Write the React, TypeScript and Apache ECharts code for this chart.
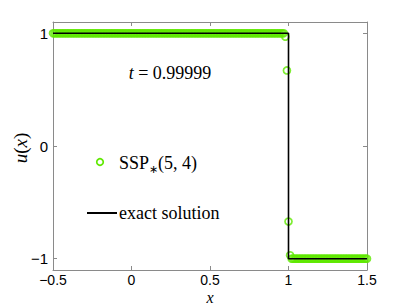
import React, { useEffect, useRef } from "react";
import * as echarts from "echarts";

// Numerical solution SSP*(5,4) on a uniform grid starting at xStart with step dx
const xStart = -0.5;
const dx = 0.01;
const numericU = [
  1, 1, 1, 1, 1, 1, 1, 1, 1, 1, 1, 1, 1, 1, 1, 1, 1, 1, 1, 1,
  1, 1, 1, 1, 1, 1, 1, 1, 1, 1, 1, 1, 1, 1, 1, 1, 1, 1, 1, 1,
  1, 1, 1, 1, 1, 1, 1, 1, 1, 1, 1, 1, 1, 1, 1, 1, 1, 1, 1, 1,
  1, 1, 1, 1, 1, 1, 1, 1, 1, 1, 1, 1, 1, 1, 1, 1, 1, 1, 1, 1,
  1, 1, 1, 1, 1, 1, 1, 1, 1, 1, 1, 1, 1, 1, 1, 1, 1, 1, 1, 1,
  1, 1, 1, 1, 1, 1, 1, 1, 1, 1, 1, 1, 1, 1, 1, 1, 1, 1, 1, 1,
  1, 1, 1, 1, 1, 1, 1, 1, 1, 1, 1, 1, 1, 1, 1, 1, 1, 1, 1, 1,
  1, 1, 1, 1, 1, 1, 1, 1,
  0.97, 0.67, -0.67, -0.97,
  -1, -1, -1, -1, -1, -1, -1, -1, -1, -1, -1, -1, -1, -1, -1, -1, -1, -1, -1, -1,
  -1, -1, -1, -1, -1, -1, -1, -1, -1, -1, -1, -1, -1, -1, -1, -1, -1, -1, -1, -1,
  -1, -1, -1, -1, -1, -1, -1, -1, -1,
];

// Exact solution (step)
const exactX = [-0.5, 1, 1, 1.5];
const exactU = [1, 1, -1, -1];

const yTicks = [-1, 0, 1];

const GREEN = "#5fe800";
const FRAME = "#8a8a8a";
const SANS = "Liberation Sans";
const SERIF = "Liberation Serif";

const fmt = (v: number) => String(v).replace("-", "\u2212");

export default function App() {
  const ref = useRef<HTMLDivElement>(null);
  useEffect(() => {
    document.body.style.margin = "0";
    const chart = echarts.init(ref.current!, null, { renderer: "svg" });
    const numericData = numericU.map((u, i) => [xStart + i * dx, u]);
    const exactData = exactX.map((x, i) => [x, exactU[i]]);
    const tickStyle = { show: true, inside: true, length: 4, lineStyle: { color: FRAME, width: 1 } };
    const lineStyle = { show: true, onZero: false, lineStyle: { color: FRAME, width: 1 } };
    chart.setOption({
      animation: false,
      backgroundColor: "#fff",
      grid: { left: 53, right: 38, top: 22, bottom: 35, containLabel: false },
      xAxis: [
        {
          type: "value", min: -0.5, max: 1.5, interval: 0.5, position: "bottom",
          axisLine: lineStyle, axisTick: tickStyle, splitLine: { show: false },
          axisLabel: { color: "#000", fontFamily: SANS, fontSize: 14, margin: 3, formatter: fmt },
        },
        {
          type: "value", min: -0.5, max: 1.5, interval: 0.5, position: "top",
          axisLine: lineStyle, axisTick: tickStyle, splitLine: { show: false },
          axisLabel: { show: false },
        },
      ],
      yAxis: [
        {
          type: "value", min: -1.1, max: 1.1, position: "left",
          axisLine: lineStyle,
          axisTick: { ...tickStyle, customValues: yTicks },
          splitLine: { show: false },
          axisLabel: { color: "#000", fontFamily: SANS, fontSize: 15, margin: 5, formatter: fmt, customValues: yTicks },
        },
        {
          type: "value", min: -1.1, max: 1.1, position: "right",
          axisLine: lineStyle,
          axisTick: { ...tickStyle, customValues: yTicks },
          splitLine: { show: false },
          axisLabel: { show: false },
        },
      ],
      series: [
        {
          type: "scatter", data: numericData, symbol: "circle", symbolSize: 7,
          itemStyle: { color: "rgba(0,0,0,0)", borderColor: GREEN, borderWidth: 1.7 },
          z: 2,
        },
        {
          type: "line", data: exactData, showSymbol: false, symbol: "none",
          lineStyle: { color: "#000", width: 1.6 }, z: 3,
        },
      ],
      graphic: [
        {
          type: "text", x: 170, y: 73, z: 10,
          style: {
            text: "{i|t} = 0.99999", fill: "#000", font: `18px "${SERIF}"`,
            textAlign: "center", textVerticalAlign: "middle",
            rich: { i: { fontStyle: "italic", fontFamily: SERIF, fontSize: 18 } },
          },
        },
        {
          type: "circle", shape: { cx: 100, cy: 162, r: 3.3 }, z: 10,
          style: { fill: "none", stroke: GREEN, lineWidth: 1.7 },
        },
        {
          type: "text", x: 119, y: 163, z: 10,
          style: {
            text: "SSP{s|\u2217}(5, 4)", fill: "#000", font: `18px "${SERIF}"`,
            textAlign: "left", textVerticalAlign: "middle",
            rich: { s: { fontSize: 11, fontFamily: SERIF, padding: [12, 0, 0, 0] } },
          },
        },
        {
          type: "line", shape: { x1: 87, y1: 213, x2: 117, y2: 213 }, z: 10,
          style: { stroke: "#000", lineWidth: 2 },
        },
        {
          type: "text", x: 119, y: 213, z: 10,
          style: {
            text: "exact solution", fill: "#000", font: `18px "${SERIF}"`,
            textAlign: "left", textVerticalAlign: "middle",
          },
        },
        {
          type: "text", x: 210, y: 305, z: 10,
          style: {
            text: "x", fill: "#000", font: `italic 16px "${SERIF}"`,
            textAlign: "center", textVerticalAlign: "bottom",
          },
        },
        {
          type: "text", x: 20, y: 148, rotation: Math.PI / 2, z: 10,
          style: {
            text: "{i|u}({i|x})", fill: "#000", font: `19px "${SERIF}"`,
            textAlign: "center", textVerticalAlign: "middle",
            rich: { i: { fontStyle: "italic", fontFamily: SERIF, fontSize: 19 } },
          },
        },
      ],
    });
    return () => chart.dispose();
  }, []);
  return (
    <div
      ref={ref}
      style={{ position: "fixed", left: 0, top: 0, width: 405, height: 305 }}
    />
  );
}
